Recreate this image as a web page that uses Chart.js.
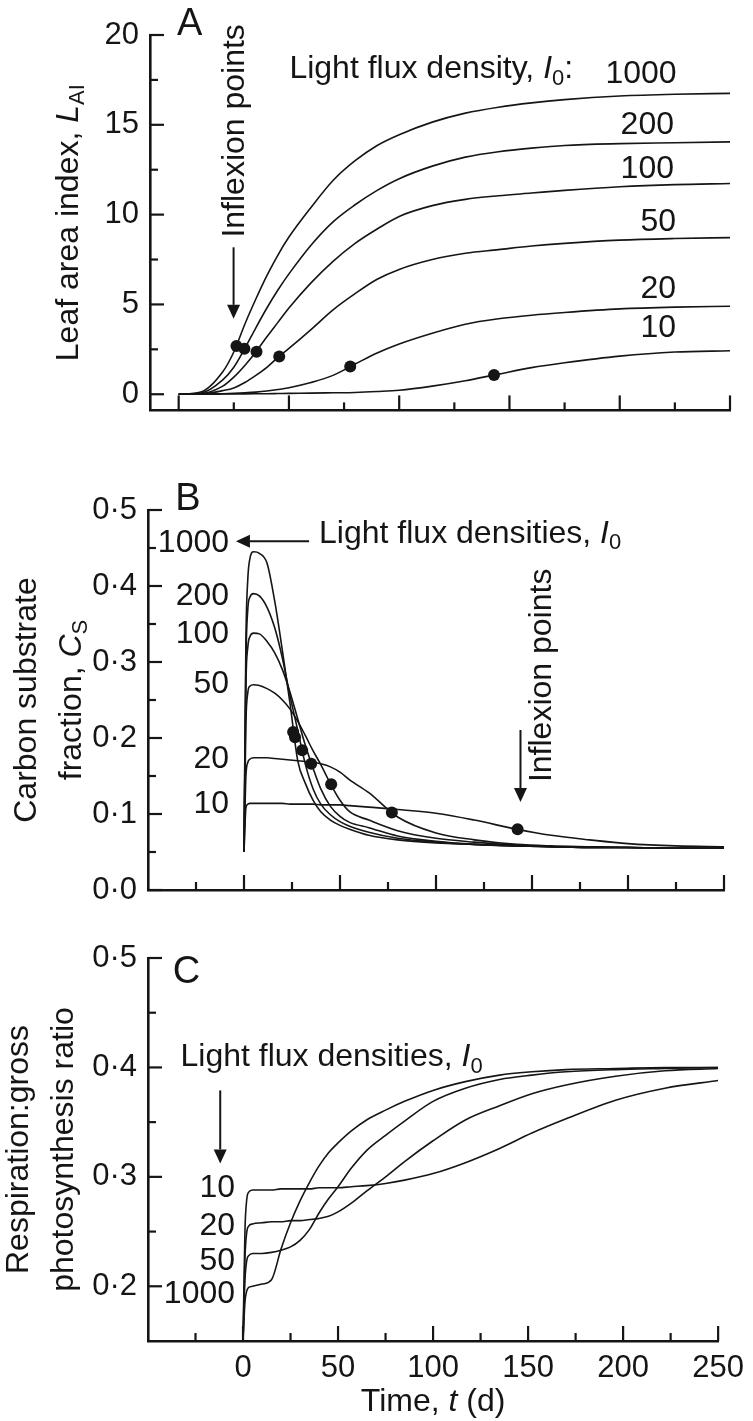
<!DOCTYPE html>
<html>
<head>
<meta charset="utf-8">
<script src="https://cdn.jsdelivr.net/npm/chart.js@4.4.0/dist/chart.umd.min.js"></script>
<style>
html, body { margin: 0; padding: 0; background: #fff; }
#wrap { position: relative; width: 753px; height: 1421px; }
canvas { position: absolute; left: 0; }
</style>
</head>
<body>
<div id="wrap">
  <canvas id="chartA" width="753" height="440" style="top:0px"></canvas>
  <canvas id="chartB" width="753" height="480" style="top:440px"></canvas>
  <canvas id="chartC" width="753" height="501" style="top:920px"></canvas>
</div>
<script>
// --- DATA ---
const lightLevels = ['1000', '200', '100', '50', '20', '10'];

// panel A: leaf area index vs time
const tA = [0, 10, 20, 25, 30, 35, 40, 45, 50, 60, 70, 80, 90, 100, 115, 130, 145, 160, 175, 200, 225, 250];
const lai1000 = [0, 0.12, 1.25, 2.35, 3.9, 5.3, 6.6, 7.75, 8.75, 10.4, 11.9, 13.0, 13.85, 14.45, 15.15, 15.65, 15.98, 16.22, 16.4, 16.6, 16.7, 16.75];
const lai200 = [0, 0.06, 0.8, 1.5, 2.55, 3.7, 4.8, 5.8, 6.7, 8.3, 9.6, 10.55, 11.35, 12.0, 12.7, 13.2, 13.5, 13.7, 13.85, 13.95, 14.0, 14.05];
const lai100 = [0, 0.03, 0.45, 0.95, 1.6, 2.35, 3.2, 4.0, 4.8, 6.2, 7.4, 8.4, 9.2, 9.9, 10.5, 10.85, 11.05, 11.2, 11.35, 11.55, 11.67, 11.73];
const lai50 = [0, 0.01, 0.2, 0.35, 0.65, 1.05, 1.5, 2.05, 2.55, 3.6, 4.7, 5.6, 6.4, 6.95, 7.5, 7.85, 8.05, 8.25, 8.4, 8.58, 8.67, 8.72];
const lai20 = [0, 0, 0.03, 0.05, 0.08, 0.12, 0.18, 0.26, 0.36, 0.65, 1.05, 1.68, 2.3, 2.8, 3.4, 3.9, 4.2, 4.4, 4.55, 4.75, 4.85, 4.9];
const lai10 = [0, 0, 0.01, 0.015, 0.02, 0.025, 0.03, 0.04, 0.05, 0.06, 0.08, 0.1, 0.15, 0.22, 0.45, 0.75, 1.12, 1.48, 1.75, 2.12, 2.35, 2.42];
const dotTA = [26.2, 29.8, 35.3, 45.6, 77.8, 143];
const dotLAI = [2.69, 2.53, 2.37, 2.10, 1.55, 1.07];

// panel B: carbon substrate fraction vs time
const tB = [0, 1, 2, 3, 5, 8, 12, 16, 20, 24, 28, 32, 36, 40, 45, 50, 55, 65, 80, 100, 120, 142, 160, 180, 200, 225, 250];
const cs1000 = [0.05, 0.33, 0.41, 0.435, 0.445, 0.443, 0.43, 0.38, 0.315, 0.245, 0.17, 0.14, 0.118, 0.103, 0.092, 0.085, 0.08, 0.072, 0.066, 0.062, 0.06, 0.058, 0.057, 0.056, 0.056, 0.055, 0.055];
const cs200 = [0.05, 0.3, 0.37, 0.385, 0.39, 0.387, 0.372, 0.345, 0.305, 0.255, 0.21, 0.165, 0.133, 0.113, 0.099, 0.09, 0.084, 0.076, 0.068, 0.063, 0.06, 0.058, 0.057, 0.056, 0.056, 0.055, 0.055];
const cs100 = [0.05, 0.27, 0.32, 0.333, 0.338, 0.337, 0.327, 0.312, 0.29, 0.26, 0.225, 0.19, 0.16, 0.133, 0.11, 0.097, 0.089, 0.082, 0.071, 0.064, 0.06, 0.058, 0.057, 0.056, 0.056, 0.055, 0.055];
const cs50 = [0.05, 0.22, 0.26, 0.268, 0.27, 0.269, 0.265, 0.259, 0.25, 0.238, 0.222, 0.203, 0.183, 0.165, 0.14, 0.118, 0.103, 0.092, 0.078, 0.068, 0.063, 0.059, 0.057, 0.056, 0.056, 0.055, 0.055];
const cs20 = [0.05, 0.15, 0.168, 0.172, 0.174, 0.174, 0.174, 0.173, 0.172, 0.171, 0.17, 0.169, 0.168, 0.166, 0.162, 0.155, 0.145, 0.128, 0.096, 0.075, 0.066, 0.06, 0.058, 0.057, 0.056, 0.055, 0.055];
const cs10 = [0.05, 0.108, 0.113, 0.114, 0.114, 0.114, 0.114, 0.114, 0.114, 0.113, 0.113, 0.113, 0.113, 0.112, 0.112, 0.112, 0.111, 0.109, 0.106, 0.101, 0.092, 0.08, 0.072, 0.066, 0.061, 0.058, 0.057];
const dotTB = [25.6, 26.6, 30.3, 35, 45.4, 77, 142.5];
const dotCS = [0.208, 0.201, 0.184, 0.166, 0.139, 0.102, 0.08];

// panel C: respiration : gross photosynthesis ratio vs time
const tC = [0, 1, 2, 3, 5, 10, 15, 20, 25, 30, 35, 40, 45, 50, 57, 65, 75, 85, 100, 117, 135, 152, 170, 196, 222, 250];
const rg1000 = [0.15, 0.185, 0.196, 0.199, 0.2, 0.202, 0.206, 0.234, 0.258, 0.278, 0.295, 0.31, 0.322, 0.331, 0.342, 0.352, 0.361, 0.369, 0.379, 0.387, 0.393, 0.396, 0.398, 0.399, 0.4, 0.4];
const rg50 = [0.15, 0.205, 0.224, 0.228, 0.23, 0.23, 0.231, 0.233, 0.236, 0.242, 0.252, 0.267, 0.28, 0.291, 0.308, 0.324, 0.338, 0.351, 0.369, 0.381, 0.389, 0.393, 0.396, 0.398, 0.399, 0.4];
const rg20 = [0.15, 0.225, 0.25, 0.255, 0.257, 0.258, 0.259, 0.259, 0.26, 0.26, 0.261, 0.262, 0.264, 0.268, 0.276, 0.287, 0.3, 0.314, 0.333, 0.352, 0.365, 0.376, 0.384, 0.392, 0.397, 0.399];
const rg10 = [0.15, 0.25, 0.28, 0.286, 0.288, 0.288, 0.288, 0.289, 0.289, 0.289, 0.289, 0.29, 0.29, 0.29, 0.291, 0.292, 0.294, 0.297, 0.303, 0.313, 0.326, 0.34, 0.353, 0.37, 0.381, 0.388];

// ticks
const xTickA = [0, 25, 50, 75, 100, 125, 150, 175, 200, 225, 250];
const xTickBC = [-25, 0, 25, 50, 75, 100, 125, 150, 175, 200, 225, 250];
const xMajor = [0, 50, 100, 150, 200, 250];
const yTickA = [0, 2.5, 5, 7.5, 10, 12.5, 15, 17.5, 20];
const yLabelA = [0, 5, 10, 15, 20];
const yTickB = [0, 0.05, 0.1, 0.15, 0.2, 0.25, 0.3, 0.35, 0.4, 0.45, 0.5];
const yLabelB = [0, 0.1, 0.2, 0.3, 0.4, 0.5];
const yTickC = [0.2, 0.25, 0.3, 0.35, 0.4, 0.45, 0.5];
const yLabelC = [0.2, 0.3, 0.4, 0.5];

// --- STYLE ---
const ink = '#151515';
const FONT = '"Liberation Sans", Arial, Helvetica, sans-serif';
const TXT = 32;

function pts(xs, ys) { return xs.map((x, i) => ({ x: x, y: ys[i] })); }
function has(list, v) { return list.some(l => Math.abs(l - v) < 1e-9); }
function dotFmt(v) { return v.toFixed(1).replace('.', '\u00B7'); }

function segFont(st, size) {
  const sz = st === 's' ? Math.round(size * 0.68) : size;
  return (st === 'i' ? 'italic ' : '') + sz + 'px ' + FONT;
}
function drawRich(ctx, segs, x, y, size, align, rot) {
  ctx.save();
  ctx.translate(x, y);
  if (rot) ctx.rotate(rot);
  let w = 0;
  segs.forEach(s => { ctx.font = segFont(s[1], size); w += ctx.measureText(s[0]).width; });
  let cx = align === 'center' ? -w / 2 : (align === 'right' ? -w : 0);
  ctx.textAlign = 'left';
  ctx.textBaseline = 'alphabetic';
  segs.forEach(s => {
    ctx.font = segFont(s[1], size);
    ctx.fillText(s[0], cx, s[1] === 's' ? size * 0.2 : 0);
    cx += ctx.measureText(s[0]).width;
  });
  ctx.restore();
}
function arrow(ctx, x1, y1, x2, y2) {
  const a = Math.atan2(y2 - y1, x2 - x1), L = 14, W = 6.5;
  const bx = x2 - L * Math.cos(a), by = y2 - L * Math.sin(a);
  ctx.beginPath(); ctx.moveTo(x1, y1); ctx.lineTo(bx, by); ctx.stroke();
  ctx.beginPath();
  ctx.moveTo(x2, y2);
  ctx.lineTo(bx - W * Math.sin(a), by + W * Math.cos(a));
  ctx.lineTo(bx + W * Math.sin(a), by - W * Math.cos(a));
  ctx.closePath(); ctx.fill();
}

// inward ticks, annotations, axis titles
const deco = {
  id: 'deco',
  afterDraw(chart, args, o) {
    const ctx = chart.ctx, xs = chart.scales.x, ys = chart.scales.y, ca = chart.chartArea;
    ctx.save();
    ctx.strokeStyle = ink; ctx.fillStyle = ink; ctx.lineWidth = 2.2; ctx.lineCap = 'butt';
    xs.ticks.forEach(t => {
      const px = xs.getPixelForValue(t.value), len = has(xMajor, t.value) ? 15 : 8;
      ctx.beginPath(); ctx.moveTo(px, ca.bottom); ctx.lineTo(px, ca.bottom - len); ctx.stroke();
    });
    ys.ticks.forEach(t => {
      const py = ys.getPixelForValue(t.value), len = has(o.yMajor, t.value) ? 14 : 8;
      ctx.beginPath(); ctx.moveTo(ca.left, py); ctx.lineTo(ca.left + len, py); ctx.stroke();
    });
    o.texts.forEach(tx => {
      drawRich(ctx, tx.segs, xs.getPixelForValue(tx.x), ys.getPixelForValue(tx.y), tx.size || TXT, tx.align || 'left', tx.rot || 0);
    });
    ctx.lineWidth = 2;
    o.arrows.forEach(a => {
      arrow(ctx, xs.getPixelForValue(a[0]), ys.getPixelForValue(a[1]), xs.getPixelForValue(a[2]), ys.getPixelForValue(a[3]));
    });
    const midY = (ca.top + ca.bottom) / 2;
    o.yTitle.forEach(line => {
      drawRich(ctx, line.segs, ca.left - line.off, midY, TXT, 'center', -Math.PI / 2);
    });
    if (o.xTitle) drawRich(ctx, o.xTitle, (ca.left + ca.right) / 2, ca.bottom + 70, TXT, 'center', 0);
    ctx.restore();
  }
};

function curve(xs, ys) {
  return { data: pts(xs, ys), borderColor: ink, borderWidth: 1.6, pointRadius: 0, fill: false, cubicInterpolationMode: 'monotone' };
}
function dots(xs, ys) {
  return { type: 'scatter', data: pts(xs, ys), pointRadius: 6, pointBackgroundColor: ink, pointBorderWidth: 0, showLine: false };
}

function makePanel(id, p) {
  return new Chart(document.getElementById(id), {
    type: 'line',
    data: { datasets: p.datasets },
    options: {
      responsive: false, animation: false, devicePixelRatio: 1,
      layout: { padding: { top: p.top, right: p.right, bottom: 0, left: 0 } },
      plugins: { legend: { display: false }, tooltip: { enabled: false }, deco: p.deco },
      scales: {
        x: {
          type: 'linear', min: p.xMin, max: 250,
          grid: { display: false, drawTicks: false },
          border: { display: true, color: ink, width: 2.6 },
          ticks: {
            display: !!p.xLabels, autoSkip: false, maxRotation: 0, padding: 9, color: ink,
            font: { family: FONT, size: 31 },
            callback: v => (p.xLabels && has(p.xLabels, v)) ? String(v) : ''
          },
          afterBuildTicks: s => { s.ticks = p.xTicks.map(v => ({ value: v })); },
          afterFit: s => { s.height = p.xH; }
        },
        y: {
          type: 'linear', min: p.yMin, max: p.yMax,
          grid: { display: false, drawTicks: false },
          border: { display: true, color: ink, width: 2.6 },
          ticks: {
            autoSkip: false, padding: 11, color: ink, font: { family: FONT, size: 31 },
            callback: v => has(p.yLabels, v) ? p.fmt(v) : ''
          },
          afterBuildTicks: s => { s.ticks = p.yTicks.map(v => ({ value: v })); },
          afterFit: s => { s.width = p.yW; }
        }
      }
    },
    plugins: [deco]
  });
}

// --- PANEL A ---
makePanel('chartA', {
  top: 35, right: 23, xH: 16, yW: 150, xMin: -13, yMin: -0.9, yMax: 20,
  xTicks: xTickA, yTicks: yTickA, yLabels: yLabelA, fmt: v => String(v),
  datasets: [curve(tA, lai1000), curve(tA, lai200), curve(tA, lai100), curve(tA, lai50), curve(tA, lai20), curve(tA, lai10), dots(dotTA, dotLAI)],
  deco: {
    yMajor: yLabelA,
    texts: [
      { segs: [['A', '']], x: 5, y: 20.02, size: 38, align: 'center' },
      { segs: [['Inflexion points', '']], x: 29.4, y: 8.72, rot: -Math.PI / 2 },
      { segs: [['Light flux density, ', ''], ['I', 'i'], ['0', 's'], [':', '']], x: 50.2, y: 17.6 },
      { segs: [[lightLevels[0], '']], x: 193.5, y: 17.33 },
      { segs: [[lightLevels[1], '']], x: 212.5, y: 14.48, align: 'center' },
      { segs: [[lightLevels[2], '']], x: 212.5, y: 12.06, align: 'center' },
      { segs: [[lightLevels[3], '']], x: 217.5, y: 9.1, align: 'center' },
      { segs: [[lightLevels[4], '']], x: 217.5, y: 5.38, align: 'center' },
      { segs: [[lightLevels[5], '']], x: 217.5, y: 3.17, align: 'center' }
    ],
    arrows: [[24.9, 8.18, 24.9, 4.2]],
    yTitle: [{ segs: [['Leaf area index, ', ''], ['L', 'i'], ['AI', 's']], off: 72 }]
  }
});

// --- PANEL B ---
makePanel('chartB', {
  top: 70, right: 29, xH: 30, yW: 148, xMin: -50, yMin: 0, yMax: 0.5,
  xTicks: xTickBC, yTicks: yTickB, yLabels: yLabelB, fmt: dotFmt,
  datasets: [curve(tB, cs1000), curve(tB, cs200), curve(tB, cs100), curve(tB, cs50), curve(tB, cs20), curve(tB, cs10), dots(dotTB, dotCS)],
  deco: {
    yMajor: yLabelB,
    texts: [
      { segs: [['B', '']], x: -29.2, y: 0.5, size: 38, align: 'center' },
      { segs: [[lightLevels[0], '']], x: -7.8, y: 0.4447, align: 'right' },
      { segs: [['Light flux densities, ', ''], ['I', 'i'], ['0', 's']], x: 39.1, y: 0.4566 },
      { segs: [[lightLevels[1], '']], x: -7.8, y: 0.375, align: 'right' },
      { segs: [[lightLevels[2], '']], x: -7.8, y: 0.325, align: 'right' },
      { segs: [[lightLevels[3], '']], x: -7.8, y: 0.2592, align: 'right' },
      { segs: [[lightLevels[4], '']], x: -7.8, y: 0.1605, align: 'right' },
      { segs: [[lightLevels[5], '']], x: -7.8, y: 0.1013, align: 'right' },
      { segs: [['Inflexion points', '']], x: 159.7, y: 0.142, rot: -Math.PI / 2 }
    ],
    arrows: [[33.9, 0.459, -4.2, 0.459], [144, 0.2105, 144, 0.1158]],
    yTitle: [
      { segs: [['Carbon substrate', '']], off: 112 },
      { segs: [['fraction, ', ''], ['C', 'i'], ['S', 's']], off: 67 }
    ]
  }
});

// --- PANEL C ---
makePanel('chartC', {
  top: 38, right: 29, xH: 80, yW: 148, xMin: -50, yMin: 0.15, yMax: 0.5,
  xTicks: xTickBC, xLabels: xMajor, yTicks: yTickC, yLabels: yLabelC, fmt: dotFmt,
  datasets: [curve(tC, rg1000), curve(tC, rg50), curve(tC, rg20), curve(tC, rg10)],
  deco: {
    yMajor: yLabelC,
    texts: [
      { segs: [['C', '']], x: -29.7, y: 0.4767, size: 38, align: 'center' },
      { segs: [['Light flux densities, ', ''], ['I', 'i'], ['0', 's']], x: -32.9, y: 0.4009 },
      { segs: [[lightLevels[5], '']], x: -4.2, y: 0.2813, align: 'right' },
      { segs: [[lightLevels[4], '']], x: -4.2, y: 0.2466, align: 'right' },
      { segs: [[lightLevels[3], '']], x: -4.2, y: 0.2146, align: 'right' },
      { segs: [[lightLevels[0], '']], x: -4.2, y: 0.1845, align: 'right' }
    ],
    arrows: [[-12, 0.379, -12, 0.3123]],
    yTitle: [
      { segs: [['Respiration:gross', '']], off: 120 },
      { segs: [['photosynthesis ratio', '']], off: 75 }
    ],
    xTitle: [['Time, ', ''], ['t', 'i'], [' (d)', '']]
  }
});
</script>
</body>
</html>
